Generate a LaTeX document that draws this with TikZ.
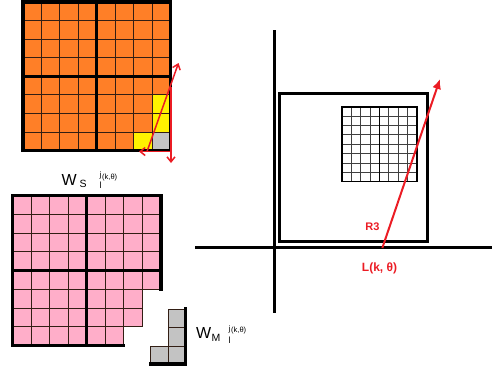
\documentclass[tikz,border=0pt]{standalone}
\usepackage{fontspec}
\setmainfont{Liberation Sans}
\usetikzlibrary{arrows.meta}
\definecolor{org}{RGB}{255,127,39}
\definecolor{pnk}{RGB}{255,174,201}
\definecolor{yel}{RGB}{255,242,0}
\definecolor{gry}{RGB}{195,195,195}
\definecolor{rd}{RGB}{235,28,36}
\definecolor{gline}{RGB}{50,30,20}
\tikzset{
  thinline/.style={gline, line width=0.8pt},
  thickline/.style={black, line width=3.2pt, line cap=rect},
  redarrow/.style={rd, line width=1.5pt, -{Straight Barb[length=5pt,width=8pt,line width=1.5pt]}},
  lbl/.style={inner sep=0pt, anchor=base west},
}
\begin{document}
\begin{tikzpicture}[x=1pt,y=-1pt]
\useasboundingbox (0,0) rectangle (493,370);
% ---------------- orange grid ----------------
\fill[org] (23,2) rectangle (170.5,150.5);
\foreach \r in {5,6} \fill[yel] ({23+7*18.4375},{2+\r*18.5625}) rectangle ++(18.4375,18.5625);
\fill[yel] ({23+6*18.4375},{2+7*18.5625}) rectangle ++(18.4375,18.5625);
\fill[gry] ({23+7*18.4375},{2+7*18.5625}) rectangle ++(18.4375,18.5625);
\foreach \i in {1,...,7} {
  \draw[thinline] ({23+\i*18.4375},2) -- ({23+\i*18.4375},150.5);
  \draw[thinline] (23,{2+\i*18.5625}) -- (170.5,{2+\i*18.5625});
}
\draw[thickline] (23,2) rectangle (170.5,150.5);
\draw[thickline] (96.75,2) -- (96.75,150.5);
\draw[thickline] (23,76.25) -- (170.5,76.25);
% red arrows on orange grid
\coordinate (oc) at (171,151.5);
\coordinate (otop) at (171,87);
\coordinate (odown) at (171,163);
\coordinate (oleft) at (139,151.5);
\coordinate (ds) at (147,151.5);
\coordinate (de) at (178.5,63);
\draw[rd, line width=1.5pt] (otop) -- (oc);
\draw[redarrow] (oc) -- (odown);
\draw[redarrow] (oc) -- (oleft);
\draw[redarrow] (ds) -- (de);
% label W_S
\node[lbl, font=\fontsize{16}{16}\selectfont] (wsW) at (61.5,185) {W};
\node[lbl, font=\fontsize{10.5}{10.5}\selectfont] (wsS) at (79.5,187.5) {S};
\node[lbl, font=\fontsize{8}{8}\selectfont] (wsj) at (99.5,177.5) {j};
\node[lbl, font=\fontsize{9}{9}\selectfont] (wsl) at (99.5,188.3) {l};
\node[lbl, font=\fontsize{7.5}{7.5}\selectfont] (wsk) at (102,179) {(k,θ)};
% ---------------- pink grid ----------------
\fill[pnk] (12.5,195.5) -- (161,195.5) -- (161,289.25) -- (142.4375,289.25) -- (142.4375,326.75)
  -- (123.875,326.75) -- (123.875,345.5) -- (12.5,345.5) -- cycle;
\foreach \i in {1,...,6} \draw[thinline] ({12.5+\i*18.5625},195.5) -- ({12.5+\i*18.5625},345.5);
\draw[thinline] (142.4375,195.5) -- (142.4375,326.75);
\foreach \j in {1,...,5} \draw[thinline] (12.5,{195.5+\j*18.75}) -- (161,{195.5+\j*18.75});
\foreach \j in {6,7} \draw[thinline] (12.5,{195.5+\j*18.75}) -- (142.4375,{195.5+\j*18.75});
\draw[thinline] (142.4375,326.75) -- (123.875,326.75);
\draw[thickline] (123.875,345.5) -- (12.5,345.5) -- (12.5,195.5) -- (161,195.5) -- (161,289.25);
\draw[thickline] (86.75,195.5) -- (86.75,345.5);
\draw[thickline] (12.5,270.5) -- (161,270.5);
% gray L
\fill[gry] (168,309) -- (185.5,309) -- (185.5,364) -- (150.5,364) -- (150.5,346) -- (168,346) -- cycle;
\draw[thinline] (185.5,309) -- (168,309) -- (168,364);
\draw[thinline] (168,327.5) -- (185.5,327.5);
\draw[thinline] (150.5,364) -- (150.5,346) -- (185.5,346);
\draw[thickline] (185.5,309) -- (185.5,364) -- (150.5,364);
% label W_M
\node[lbl, font=\fontsize{16}{16}\selectfont] (wmW) at (196,338.3) {W};
\node[lbl, font=\fontsize{10.5}{10.5}\selectfont] (wmM) at (211.5,341) {M};
\node[lbl, font=\fontsize{8}{8}\selectfont] (wmj) at (228.5,331) {j};
\node[lbl, font=\fontsize{9}{9}\selectfont] (wml) at (228.5,343) {l};
\node[lbl, font=\fontsize{7.5}{7.5}\selectfont] (wmk) at (231,332.5) {(k,θ)};
% ---------------- right panel ----------------
\draw[black, line width=3pt] (274.7,30) -- (274.7,313);
\draw[black, line width=3pt] (195,247.3) -- (492,247.3);
\draw[black, line width=3pt, line cap=rect] (279,93.3) rectangle (427.3,241.3);
% small grid
\foreach \i in {1,...,7} {
  \draw[black!75, line width=0.6pt] ({341.7+\i*9.375},106.7) -- ({341.7+\i*9.375},181.5);
  \draw[black!75, line width=0.6pt] (341.7,{106.7+\i*9.35}) -- (416.7,{106.7+\i*9.35});
}
\draw[black, line width=1.4pt] (379.2,106.7) -- (379.2,181.5);
\draw[black, line width=1.8pt] (341.7,106.7) rectangle (416.7,181.5);
% red arrow
\coordinate (rs) at (382.3,248);
\coordinate (re) at (440,79);
\draw[rd, line width=2pt, -{Latex[length=10pt,width=9pt]}] (rs) -- (re);
\node[inner sep=0pt, text=rd, font=\fontsize{11}{11}\selectfont\bfseries] (r3) at (372.5,227) {R3};
\node[inner sep=0pt, text=rd, font=\fontsize{12}{12}\selectfont\bfseries] (lk) at (379.5,268) {L(k, θ)};
\end{tikzpicture}
\end{document}
